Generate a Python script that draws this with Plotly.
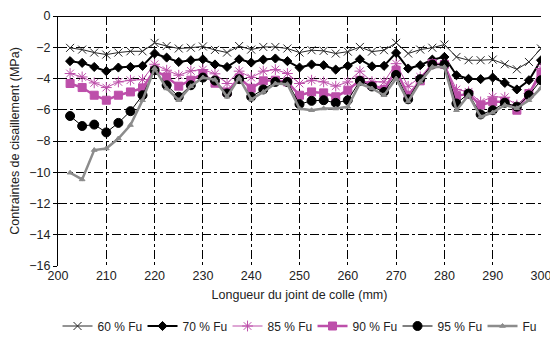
import plotly.graph_objects as go

# positions along the joint (mm)
x = [202.5 + 2.5 * i for i in range(40)]

fu60 = [-2.04, -2.15, -2.34, -2.47, -2.34, -2.26, -2.26, -1.72, -1.92, -2.08,
        -2.03, -1.95, -2.17, -2.34, -1.92, -2.15, -1.98, -1.98, -2.08, -2.34,
        -2.19, -2.23, -2.40, -2.28, -1.98, -2.28, -2.19, -1.72, -2.40, -2.15,
        -2.03, -1.83, -2.62, -2.83, -2.83, -2.79, -3.09, -3.41, -2.94, -2.08]
fu70 = [-2.89, -3.00, -3.26, -3.53, -3.30, -3.26, -3.19, -2.40, -2.66, -2.94,
        -2.83, -2.77, -3.10, -3.26, -2.77, -2.98, -2.79, -2.72, -2.89, -3.30,
        -3.10, -3.15, -3.43, -3.19, -2.77, -3.22, -3.19, -2.36, -3.36, -3.15,
        -2.79, -2.62, -3.79, -4.02, -4.04, -3.94, -4.28, -4.70, -4.11, -2.83]
fu85 = [-3.68, -3.90, -4.28, -4.58, -4.22, -4.11, -4.07, -3.09, -3.47, -3.79,
        -3.51, -3.43, -3.70, -4.32, -3.53, -3.94, -3.53, -3.43, -3.68, -4.32,
        -4.11, -4.22, -4.49, -4.22, -3.53, -4.20, -4.22, -3.05, -4.50, -3.90,
        -3.05, -3.09, -4.70, -4.85, -5.50, -5.17, -5.20, -5.70, -4.96, -3.36]
fu90 = [-4.32, -4.58, -5.07, -5.39, -5.07, -4.86, -4.60, -3.47, -3.90, -4.49,
        -4.11, -3.70, -4.30, -4.86, -3.96, -4.62, -4.15, -4.11, -4.22, -5.07,
        -4.86, -4.92, -5.17, -4.75, -4.11, -4.43, -4.70, -3.47, -5.07, -4.15,
        -3.05, -3.10, -5.10, -5.00, -5.70, -5.49, -5.49, -6.03, -4.96, -3.70]
fu95 = [-6.40, -7.04, -6.95, -7.45, -6.84, -6.09, -5.07, -3.47, -4.43, -5.17,
        -4.43, -3.94, -4.13, -4.96, -4.04, -5.17, -4.70, -4.22, -4.22, -5.64,
        -5.43, -5.39, -5.56, -5.39, -4.15, -4.51, -4.86, -3.77, -5.33, -4.04,
        -3.10, -3.10, -5.60, -4.96, -6.30, -6.03, -5.55, -5.80, -5.07, -4.11]
fu100 = [-10.03, -10.46, -8.58, -8.48, -7.84, -6.98, -5.39, -3.35, -4.64, -5.39,
         -4.49, -3.94, -4.08, -5.17, -3.96, -5.34, -4.86, -4.32, -4.36, -5.92,
         -6.03, -5.92, -5.92, -5.81, -4.32, -4.64, -5.07, -4.00, -5.47, -4.22,
         -3.26, -3.26, -6.03, -5.07, -6.45, -6.18, -5.70, -5.90, -5.39, -4.60]

magenta = 'rgb(189,79,170)'

series = [
    ('60 % Fu', fu60, 'rgb(40,40,40)', 1, 'x-thin-open', 8),
    ('70 % Fu', fu70, 'black', 2, 'diamond', 7),
    ('85 % Fu', fu85, magenta, 1, 'asterisk-open', 9),
    ('90 % Fu', fu90, magenta, 2.5, 'square', 8),
    ('95 % Fu', fu95, 'black', 1, 'circle', 9),
    ('Fu', fu100, 'rgb(140,140,140)', 2.5, 'triangle-up', 5),
]

fig = go.Figure()
for name, y, color, width, symbol, size in series:
    fig.add_trace(go.Scatter(
        x=x, y=y, name=name, mode='lines+markers',
        line=dict(color=color, width=width),
        marker=dict(symbol=symbol, size=size, color=color,
                    line=dict(color=color, width=1)),
    ))

fig.update_layout(
    width=550, height=337,
    margin=dict(l=58, r=9, t=16, b=71, autoexpand=False),
    paper_bgcolor='white', plot_bgcolor='white',
    font=dict(family='Liberation Sans, Arial', size=12.5, color='#222'),
    # anchored just left of the plot area so the row may use the full width
    legend=dict(orientation='h', x=-0.001, xanchor='left', y=-0.24, yanchor='middle',
                font=dict(size=12), itemwidth=30, tracegroupgap=0,
                entrywidth=40, entrywidthmode='pixels'),
)
fig.update_xaxes(
    range=[200, 300], dtick=10, showline=False, automargin=False,
    ticklabeloverflow='allow',
    showgrid=True, gridcolor='#000000', gridwidth=1, griddash='dashdot',
    zeroline=False, ticks='',
    title=dict(text='Longueur du joint de colle (mm)', font=dict(size=12.5), standoff=8),
)
fig.update_yaxes(
    range=[-16, 0], dtick=2, showline=True, linecolor='black', linewidth=1,
    ticks='outside', ticklen=4, tickcolor='black', automargin=False,
    showgrid=True, gridcolor='#000000', gridwidth=1, griddash='dashdot',
    zeroline=True, zerolinecolor='black', zerolinewidth=1,
    title=dict(text='Contraintes de cisaillement (MPa)', font=dict(size=12.5), standoff=6),
)

fig.write_html("out.html", config={'displayModeBar': False},
               post_script="document.body.style.margin='0';")
